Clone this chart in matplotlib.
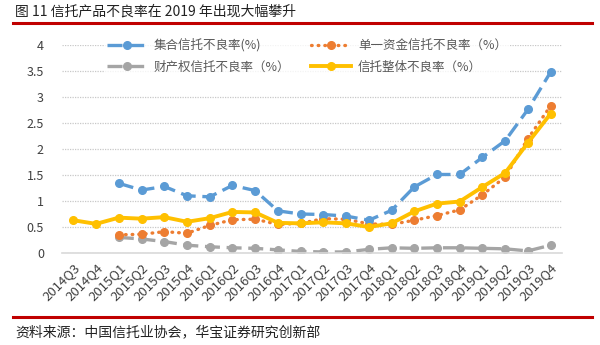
import matplotlib
matplotlib.use('Agg')
import matplotlib.pyplot as plt
from matplotlib.lines import Line2D

plt.rcParams['font.family'] = ['Noto Sans CJK SC', 'DejaVu Sans']

# categorii (trimestre)
quarters = ['2014Q3', '2014Q4',
            '2015Q1', '2015Q2', '2015Q3', '2015Q4',
            '2016Q1', '2016Q2', '2016Q3', '2016Q4',
            '2017Q1', '2017Q2', '2017Q3', '2017Q4',
            '2018Q1', '2018Q2', '2018Q3', '2018Q4',
            '2019Q1', '2019Q2', '2019Q3', '2019Q4']

# serii de date (incep din 2015Q1, in afara de total)
jihe = [1.34, 1.21, 1.28, 1.10, 1.08, 1.30, 1.20, 0.81, 0.75, 0.74,
        0.71, 0.63, 0.82, 1.27, 1.51, 1.51, 1.84, 2.16, 2.76, 3.48]
danyi = [0.35, 0.36, 0.41, 0.38, 0.53, 0.64, 0.65, 0.55, 0.57, 0.66,
         0.65, 0.56, 0.55, 0.63, 0.72, 0.83, 1.12, 1.46, 2.20, 2.83]
caichan = [0.30, 0.27, 0.22, 0.15, 0.12, 0.10, 0.09, 0.06, 0.03, 0.02,
           0.02, 0.07, 0.10, 0.09, 0.10, 0.10, 0.09, 0.08, 0.04, 0.15]
zhengti = [0.63, 0.56, 0.68, 0.66, 0.69, 0.60, 0.67, 0.79, 0.78, 0.58,
           0.57, 0.59, 0.57, 0.50, 0.57, 0.80, 0.95, 0.99, 1.27, 1.54, 2.12, 2.68]

labels = ['集合信托不良率(%)', '财产权信托不良率（%）',
          '单一资金信托不良率（%）', '信托整体不良率（%）']

blue = '#5B9BD5'
orange = '#ED7D31'
gray = '#A5A5A5'
yellow = '#FFC000'
txt = '#595959'

x_all = list(range(len(quarters)))
x_sub = x_all[2:]

fig = plt.figure(figsize=(6, 3.45), dpi=100)
ax = fig.add_axes([62 / 600, 1 - 253 / 345, 500 / 600, 208 / 345])

l1, = ax.plot(x_sub, jihe, color=blue, lw=2.4, ls=(0, (4.5, 2)),
              marker='o', ms=5.5, zorder=4)
l3, = ax.plot(x_sub, danyi, color=orange, lw=2.4, ls=(0, (0.2, 1.8)),
              dash_capstyle='round', marker='o', ms=5.5, zorder=3)
l2, = ax.plot(x_sub, caichan, color=gray, lw=2.4, ls=(0, (4.5, 2)),
              marker='o', ms=5.5, zorder=2)
l4, = ax.plot(x_all, zhengti, color=yellow, lw=2.8, marker='o', ms=5.5,
              zorder=5)

ax.set_xlim(-0.5, len(quarters) - 0.5)
ax.set_ylim(0, 4)
ax.set_yticks([0, 0.5, 1, 1.5, 2, 2.5, 3, 3.5, 4])
ax.set_yticklabels(['0', '0.5', '1', '1.5', '2', '2.5', '3', '3.5', '4'])
ax.set_xticks(x_all)
ax.set_xticklabels(quarters, rotation=45, ha='right', rotation_mode='anchor')
ax.tick_params(axis='both', length=0, colors='#404040', labelsize=9)
ax.tick_params(axis='x', pad=6, labelsize=9.5)
ax.tick_params(axis='y', pad=13)

ax.grid(axis='y', color='#C8C8C8', ls=(0, (1, 1)), lw=0.9)
ax.set_axisbelow(True)
for s in ['top', 'right', 'left']:
    ax.spines[s].set_visible(False)
ax.spines['bottom'].set_color('#D9D9D9')
ax.spines['bottom'].set_linewidth(1.2)

leg = fig.legend([l1, l2, l3, l4], labels, ncol=2, loc='upper left',
                 bbox_to_anchor=(104 / 600, 1 - 36 / 345), frameon=True,
                 fontsize=9, handlelength=3.2, handletextpad=0.6,
                 columnspacing=1.6, labelspacing=0.7, borderpad=0.2,
                 borderaxespad=0)
leg.get_frame().set_facecolor('white')
leg.get_frame().set_edgecolor('none')
leg.set_zorder(10)
for t in leg.get_texts():
    t.set_color(txt)

# titlu si sursa
fig.text(15 / 600, 1 - 11 / 345, '图 11 信托产品不良率在 2019 年出现大幅攀升',
         fontsize=10, va='center', ha='left', color='#222222')
fig.add_artist(Line2D([13 / 600, 592 / 600], [1 - 23 / 345, 1 - 23 / 345],
                      color='#C00000', lw=2.2))
fig.add_artist(Line2D([13 / 600, 592 / 600], [1 - 317 / 345, 1 - 317 / 345],
                      color='#C00000', lw=2.2))
fig.text(15 / 600, 1 - 332 / 345, '资料来源：中国信托业协会，华宝证券研究创新部',
         fontsize=10, va='center', ha='left', color='#222222')

fig.savefig('out.png', dpi=100)
